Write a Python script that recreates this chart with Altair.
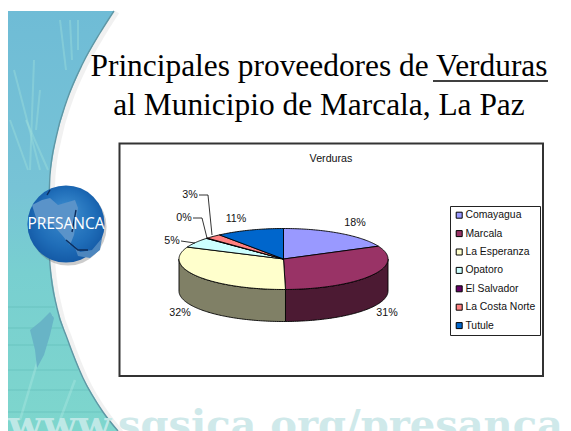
import math
import altair as alt
import pandas as pd

# ---- chart values
categories = ["Comayagua", "Marcala", "La Esperanza", "Opatoro", "El Salvador", "La Costa Norte", "Tutule"]
shares = [18.1, 31.6, 31.7, 5.4, 0.2, 2.5, 10.5]
pct_labels = ["18%", "31%", "32%", "5%", "0%", "3%", "11%"]
title_lines = ["Principales proveedores de Verduras", "al Municipio de Marcala, La Paz"]

# ---- styles
top_colors = ["#9999FF", "#993366", "#FFFFCC", "#CCFFFF", "#660066", "#FF8080", "#0066CC"]
side_colors = ["#4D1A33", "#4C1A33", "#808066", "#668080", "#330033", "#804040", "#003366"]
SERIF = "Liberation Serif"
SANS = "Liberation Sans"
SMALL = 10.7

# ---- layout (page pixels)
CX, CY, RX, RY, DEPTH = 283.5, 259.0, 104.5, 30.5, 32.0
label_pos = [(355, 223), (387, 313), (180, 313), (172, 241), (184, 218), (190, 195), (236, 219)]
leaders = [[(181, 241), (195, 243)], [(193, 218), (202, 218), (207, 238)], [(199, 195), (208, 195), (212, 235)]]

SX = alt.Scale(domain=[8, 563], range=[0, 555], nice=False, zero=False)
SY = alt.Scale(domain=[8, 431], range=[0, 423], nice=False, zero=False)
X = alt.X("x:Q", scale=SX, axis=None)
Y = alt.Y("y:Q", scale=SY, axis=None)


def frame(pts, **extra):
    return pd.DataFrame([dict(x=p[0], y=p[1], o=i, **extra) for i, p in enumerate(pts)])


def shape(pts, fill, stroke=None, sw=0, opacity=1.0):
    kw = dict(fill=fill, strokeWidth=sw, opacity=opacity, clip=True, interpolate="linear")
    kw["stroke"] = stroke if stroke else "transparent"
    return alt.Chart(frame(list(pts) + [pts[0]])).mark_line(**kw).encode(x=X, y=Y, order="o:Q")


def line(pts, color, sw=1.0, opacity=1.0, interp="linear"):
    return alt.Chart(frame(pts)).mark_line(color=color, strokeWidth=sw, opacity=opacity,
                                           interpolate=interp, clip=True).encode(x=X, y=Y, order="o:Q")


def text(x, y, s, font=SANS, size=10, color="#000000", align="center", **kw):
    return alt.Chart(pd.DataFrame([dict(x=x, y=y, t=s)])).mark_text(
        font=font, fontSize=size, color=color, align=align, baseline="alphabetic", clip=True, **kw
    ).encode(x=X, y=Y, text="t:N")


def grad(stops, **k):
    return alt.LinearGradient(gradient="linear", stops=[alt.GradientStop(color=c, offset=o) for o, c in stops], **k)


layers = []

# ---- swoosh background
edge = [(114, 11), (100, 33), (83, 63), (67, 100), (56, 138), (50, 175), (48, 220), (50, 265), (57, 308), (67, 338),
        (83, 378), (103, 412), (118, 431)]
shadow = [(p[0] + 3, p[1] + 1) for p in edge]
layers.append(line(shadow, "#9a9a9a", sw=5, opacity=0.14, interp="monotone"))
swoosh_pts = [(8, 11)] + edge + [(8, 431)]
layers.append(shape(swoosh_pts, grad([(0, "#6fbcd6"), (0.42, "#77c3d6"), (0.62, "#78cfd0"), (1, "#7ed6cd")],
                                     x1=0, x2=0, y1=0, y2=1)))
# streaks
for s in [[(14, 70), (40, 170)], [(26, 120), (48, 170)], [(60, 20), (66, 70)], [(70, 20), (72, 60)], [(34, 60), (30, 170)],
          [(10, 120), (28, 170)], [(78, 20), (78, 50)], [(40, 90), (36, 130)]]:
    layers.append(line(s, "#9fe0dc", sw=2, opacity=0.4))
for yy, xe in [(307, 55), (328, 62), (345, 70), (370, 78), (390, 90), (412, 103)]:
    layers.append(line([(8, yy), (xe, yy)], "#55b2b0", sw=1.2, opacity=0.45))
layers.append(line([(20, 420), (38, 360), (52, 315)], "#b5ece4", sw=2.5, opacity=0.35))
layers.append(line([(60, 420), (75, 380)], "#b5ece4", sw=2.5, opacity=0.35))
layers.append(shape([(30, 330), (40, 322), (50, 312), (54, 318), (50, 335), (44, 355), (37, 368), (35, 350)], "#68b4c6"))
layers.append(line(edge, "#5f97a5", sw=1.4, interp="monotone"))

# ---- footer text
layers.append(text(8, 438, "www", font="DejaVu Serif", size=40, color="#c2eae8", align="left", fontWeight="bold", opacity=0.95))
layers.append(text(104, 438, ".sgsica.org/presanca", font="DejaVu Serif", size=40, color="#cfe9ea", align="left", fontWeight="bold"))

# ---- globe
ball = alt.RadialGradient(gradient="radial", stops=[alt.GradientStop(color="#3f8fd0", offset=0),
                                                    alt.GradientStop(color="#1f6db8", offset=0.6),
                                                    alt.GradientStop(color="#0d4f9c", offset=1)],
                          x1=0.5, y1=0.32, x2=0.5, y2=0.5, r1=0, r2=0.62)
layers.append(alt.Chart(pd.DataFrame([dict(x=68, y=227)])).mark_point(
    filled=True, size=5950, color="#555555", opacity=0.3).encode(x=X, y=Y))
layers.append(alt.Chart(pd.DataFrame([dict(x=66, y=224)])).mark_point(
    filled=True, size=5950, fill=ball, opacity=1).encode(x=X, y=Y))
layers.append(shape([(32, 205), (42, 200), (50, 198), (58, 205), (75, 200), (78, 208), (76, 222), (74, 235), (70, 245),
                     (62, 235), (52, 224), (38, 224)], "#5a93c9"))
layers.append(shape([(74, 245), (80, 252), (92, 250), (102, 238), (100, 250), (90, 258), (78, 256)], "#4d86be"))
layers.append(line([(47, 195), (50, 190)], "#0c2d5c", sw=1.4))
layers.append(line([(76, 210), (72, 232)], "#0c2d5c", sw=1.4))
layers.append(line([(66, 240), (78, 250), (88, 250)], "#0c2d5c", sw=1.4))
layers.append(text(66, 229, "PRESANCA", font="Open Sans", size=15.5, color="#ffffff"))

# ---- title
layers.append(text(319, 76, title_lines[0], font=SERIF, size=31.4))
layers.append(text(319, 115, title_lines[1], font=SERIF, size=31.4))
layers.append(line([(433, 81), (548, 81)], "#000000", sw=1.3))

# ---- chart frame
layers.append(alt.Chart(pd.DataFrame([dict(x=119.5, x2=543, y=143.5, y2=376)])).mark_rect(
    fill="#ffffff", stroke="#333333", strokeWidth=2).encode(x=X, x2="x2:Q", y=Y, y2="y2:Q"))
layers.append(text(331, 162, "Verduras", size=SMALL, color="#111111"))

# ---- pie: walls, then tops, all derived from the shares
total = sum(shares)
edges = [0.0]
for v in shares:
    edges.append(edges[-1] + v / total * 360)


def ell(t, dy=0.0):
    r = math.radians(t)
    return (CX + RX * math.sin(r), CY - RY * math.cos(r) + dy)


def deg_range(a, b):
    n = max(2, int(abs(b - a)) + 2)
    return [a + (b - a) * i / (n - 1) for i in range(n)]


rows = []
for i, c in enumerate(categories):
    a, b = max(edges[i], 90), min(edges[i + 1], 270)
    if b > a:
        arc = deg_range(a, b)
        pts = [ell(t) for t in arc] + [ell(t, DEPTH) for t in reversed(arc)]
        rows.append(frame(pts + [pts[0]], cat=c, side=side_colors[i]))
walls = pd.concat(rows)
layers.append(alt.Chart(walls).mark_line(stroke="#000000", strokeWidth=0.9, interpolate="linear").encode(
    x=X, y=Y, order="o:Q", detail="cat:N", fill=alt.Fill("side:N", scale=None)))

rows = []
for i, c in enumerate(categories):
    pts = [(CX, CY)] + [ell(t) for t in deg_range(edges[i], edges[i + 1])] + [(CX, CY)]
    rows.append(frame(pts, cat=c))
tops = pd.concat(rows)
layers.append(alt.Chart(tops).mark_line(stroke="#000000", strokeWidth=0.9, interpolate="linear").encode(
    x=X, y=Y, order="o:Q", detail="cat:N",
    fill=alt.Fill("cat:N", scale=alt.Scale(domain=categories, range=top_colors), sort=categories,
                  legend=alt.Legend(title=None, orient="none", legendX=442, legendY=198, symbolType="square",
                                    symbolSize=36, symbolStrokeColor="#000000", symbolStrokeWidth=1,
                                    symbolOpacity=1, labelFont=SANS, labelFontSize=10.4, labelColor="#111111",
                                    strokeColor="#222222", fillColor="#ffffff", padding=4, rowPadding=7.4,
                                    labelOffset=1, labelLimit=90, symbolOffset=0))))

# ---- percentage labels
for s in leaders:
    layers.append(line(s, "#000000", sw=0.8))
lab = pd.DataFrame([dict(x=p[0], y=p[1], t=t) for p, t in zip(label_pos, pct_labels)])
layers.append(alt.Chart(lab).mark_text(font=SANS, fontSize=SMALL, color="#111111").encode(x=X, y=Y, text="t:N"))

chart = alt.layer(*layers).resolve_scale(fill="independent").properties(
    width=555, height=423, padding=0, background="#ffffff", autosize=alt.AutoSizeParams(type="none")
).configure_view(stroke=None)

chart.save("out.html", embed_options={"renderer": "svg", "actions": False})
